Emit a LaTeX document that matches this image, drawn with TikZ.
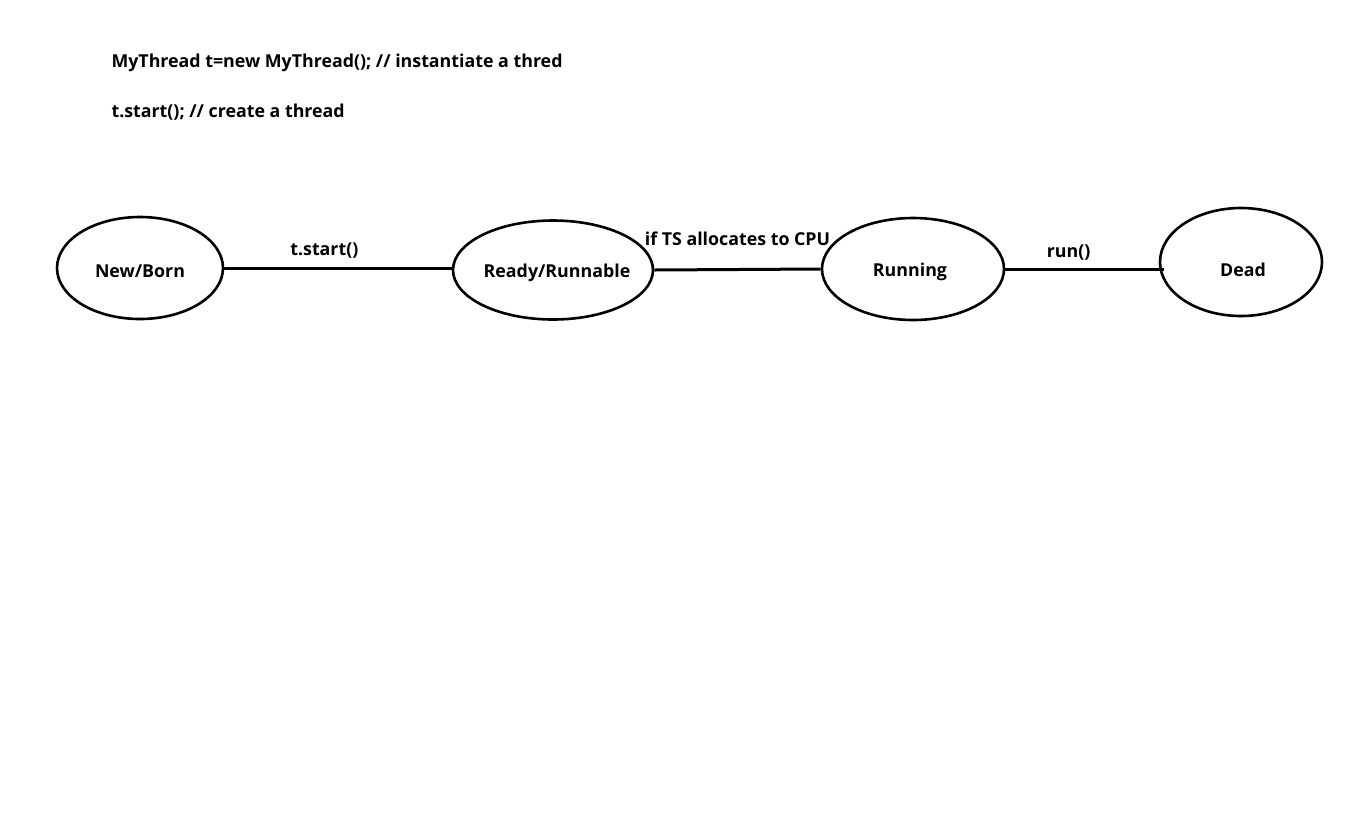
\documentclass[tikz,border=0pt]{standalone}
\usepackage{fontspec}
\setmainfont{Open Sans}
\usetikzlibrary{shapes.geometric}
\tikzset{state/.style={draw, ellipse, line width=2.6pt, inner sep=0pt},
         lbl/.style={font=\fontsize{17.8}{21}\selectfont\bfseries},
         trans/.style={draw, line width=3pt}}
\begin{document}
\begin{tikzpicture}[x=1pt,y=-1pt]
\useasboundingbox (0,0) rectangle (1358,831);
% code lines
\node[lbl, anchor=west] (code1) at (108,63) {MyThread t=new MyThread(); // instantiate a thred};
\node[lbl, anchor=west] (code2) at (108,112) {t.start(); // create a thread};
% states (text as labels so the ellipse size stays fixed)
\node[state, minimum width=166pt, minimum height=102pt,
      label={[lbl, yshift=-3pt]center:New/Born}] (new) at (140,268) {};
\node[state, minimum width=200pt, minimum height=99pt,
      label={[lbl, yshift=-3pt, xshift=4pt]center:Ready/Runnable}] (ready) at (553,270) {};
\node[state, minimum width=182pt, minimum height=102pt,
      label={[lbl, yshift=-3pt, xshift=-3pt]center:Running}] (run) at (913,269) {};
\node[state, minimum width=162pt, minimum height=108pt,
      label={[lbl, yshift=-8pt, xshift=2pt]center:Dead}] (dead) at (1241,262) {};
% transitions
\draw[trans] (new.east) -- (ready.west |- new.east) node[lbl, pos=0.44, above=5pt] {t.start()};
\draw[trans] (ready.east) -- (run.west) node[lbl, midway, above=19pt] {if TS allocates to CPU};
\draw[trans] (run.east) -- ([xshift=5pt]dead.west |- run.east) node[lbl, pos=0.4, above=4pt] {run()};
\end{tikzpicture}
\end{document}
